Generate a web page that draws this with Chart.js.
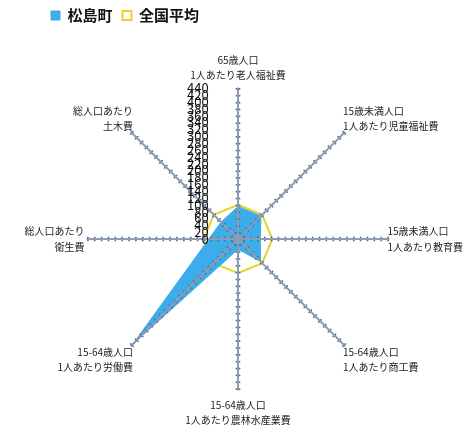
<!DOCTYPE html>
<html lang="ja">
<head>
<meta charset="utf-8">
<script src="https://cdn.jsdelivr.net/npm/chart.js@4.4.1/dist/chart.umd.min.js"></script>
<style>
  html, body { margin: 0; padding: 0; background: #fff; }
  #wrap { width: 469px; height: 430px; }
</style>
</head>
<body>
<div id="wrap"><canvas id="radar"></canvas></div>
<script>
// axes, clockwise from the top
const axisLabels = [
  ['65歳人口', '1人あたり老人福祉費'],
  ['15歳未満人口', '1人あたり児童福祉費'],
  ['15歳未満人口', '1人あたり教育費'],
  ['15-64歳人口', '1人あたり商工費'],
  ['15-64歳人口', '1人あたり農林水産業費'],
  ['15-64歳人口', '1人あたり労働費'],
  ['総人口あたり', '衛生費'],
  ['総人口あたり', '土木費']
]
const matsushima = [95, 95, 65, 93, 30, 435, 85, 70]
const national = [100, 100, 100, 100, 100, 100, 100, 100]
const scaleMax = 440
const tickCount = 23   // 0, 20, 40 ... 440

const font = '"Noto Sans CJK JP", "Noto Sans", sans-serif'
const tickHalf = 2.5

// move the legend row right and up like in the original sheet
const legendShift = {
  id: 'legendShift',
  afterLayout(chart) {
    const lg = chart.legend
    lg.left += 21; lg.right += 21
    lg.top -= 18; lg.bottom -= 18
  }
}

const ctx = document.getElementById('radar')
new Chart(ctx, {
  type: 'radar',
  data: {
    labels: axisLabels,
    datasets: [
      {
        label: '松島町',
        data: matsushima,
        backgroundColor: '#3caceb',
        borderColor: '#3caceb',
        borderWidth: 1,
        pointRadius: 0,
        fill: true
      },
      {
        label: '全国平均',
        data: national,
        backgroundColor: '#ffffff',
        borderColor: '#e6d42a',
        borderWidth: 2,
        pointRadius: 0,
        fill: false
      }
    ]
  },
  options: {
    responsive: true,
    maintainAspectRatio: false,
    animation: false,
    layout: {
      padding: { left: 20, right: 0, top: 16, bottom: 0 }
    },
    plugins: {
      legend: {
        position: 'top',
        align: 'start',
        labels: {
          boxWidth: 9,
          boxHeight: 9,
          padding: 10,
          color: '#111',
          font: { family: font, size: 15, weight: 'bold' }
        }
      },
      tooltip: { enabled: false }
    },
    scales: {
      r: {
        min: -1e-9,   // keeps the "0" label visible
        max: scaleMax,
        angleLines: { color: '#8e9cb3', lineWidth: 2 },
        grid: {
          z: 1,
          circular: false,
          color: '#56698f',
          lineWidth: (c) => c.index === 0 ? 0 : 1.5
        },
        border: {
          // short dashes at each corner of the polygon act as tick marks on the axes
          dash: (c) => {
            const r = c.scale.getDistanceFromCenterForValue(c.tick.value)
            const side = 2 * r * Math.sin(Math.PI / 8)
            return [2 * tickHalf, Math.max(side - 2 * tickHalf, 0.1)]
          },
          dashOffset: tickHalf
        },
        ticks: {
          z: 1,
          count: tickCount,
          autoSkip: false,
          color: '#111',
          showLabelBackdrop: false,
          backdropPadding: -11.75,   // labels may overlap, as in the sheet
          font: { family: font, size: 13 },
          callback: (value) => {
            const label = String(Math.round(value))
            return label + '\u2007'.repeat(label.length) + '\u2003'.repeat(4) + '\u2002'
          }
        },
        pointLabels: {
          color: '#222',
          padding: (c) => [10.5, 3, 4, 3, 13, 3, 8, 3][c.index],
          font: { family: font, size: 10, lineHeight: 1.55 }
        }
      }
    }
  },
  plugins: [legendShift]
})
</script>
</body>
</html>
